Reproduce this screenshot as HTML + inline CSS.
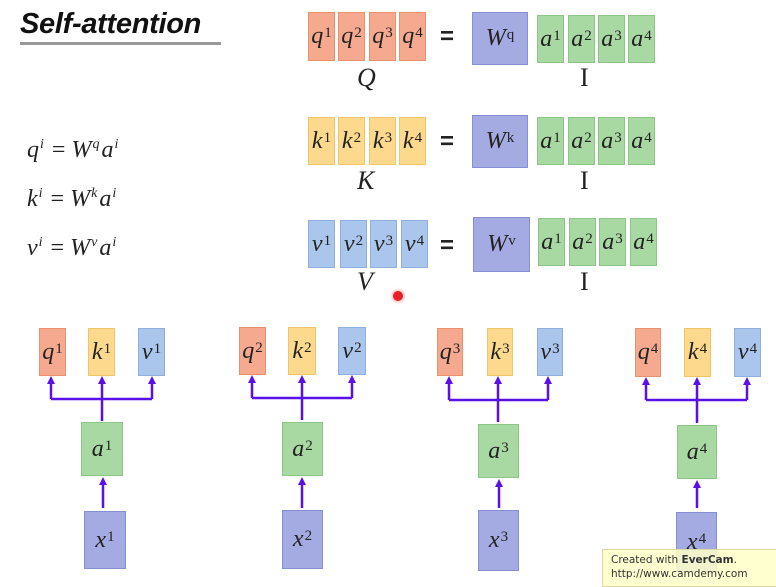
<!DOCTYPE html>
<html><head><meta charset="utf-8"><style>
body{margin:0;width:776px;height:584px;background:#fff;position:relative;overflow:hidden;font-family:"Liberation Serif",serif}
.b{position:absolute;box-sizing:border-box;display:flex;align-items:center;justify-content:center;font-style:italic;font-size:24px;color:#222}
.b sup{font-style:normal;font-size:15px;position:relative;top:-3px;margin-left:1px}
.o{background:#f5a98f;border:1px solid #e9906f}
.y{background:#fcd98c;border:1px solid #f0c56a}
.l{background:#aac6ec;border:1px solid #8fb0de}
.p{background:#a4abe3;border:1px solid #8590d4}
.g{background:#a9d9a2;border:1px solid #8cc585}
.t{position:absolute;font-size:26px;color:#222}
.eq{position:absolute;font-family:"Liberation Sans",sans-serif;font-weight:bold;font-size:24px;color:#222}
.f{position:absolute;font-size:24px;font-style:italic;color:#222;white-space:nowrap}
.f sup{font-size:14px;margin:0 2px 0 1px}
</style></head><body>
<div style="position:absolute;left:20px;top:8px;font-family:'Liberation Sans',sans-serif;font-weight:bold;font-style:italic;font-size:29px;color:#111;border-bottom:3px solid #999;padding-bottom:1px;width:201px;letter-spacing:-0.3px">Self-attention</div>

<div class="f" style="left:27px;top:137px">q<sup>i</sup> <span style="font-style:normal">=</span> W<sup>q</sup>a<sup>i</sup></div>
<div class="f" style="left:27px;top:186px">k<sup>i</sup> <span style="font-style:normal">=</span> W<sup>k</sup>a<sup>i</sup></div>
<div class="f" style="left:27px;top:235px">v<sup>i</sup> <span style="font-style:normal">=</span> W<sup>v</sup>a<sup>i</sup></div>

<!-- Q row -->
<div class="b o" style="left:308px;top:12px;width:27px;height:49px">q<sup>1</sup></div>
<div class="b o" style="left:338px;top:12px;width:27px;height:49px">q<sup>2</sup></div>
<div class="b o" style="left:369px;top:12px;width:27px;height:49px">q<sup>3</sup></div>
<div class="b o" style="left:399px;top:12px;width:27px;height:49px">q<sup>4</sup></div>
<div class="eq" style="left:440px;top:23px">=</div>
<div class="b p" style="left:472px;top:12px;width:56px;height:53px">W<sup>q</sup></div>
<div class="b g" style="left:537px;top:15px;width:27px;height:48px">a<sup>1</sup></div>
<div class="b g" style="left:568px;top:15px;width:27px;height:48px">a<sup>2</sup></div>
<div class="b g" style="left:598px;top:15px;width:27px;height:48px">a<sup>3</sup></div>
<div class="b g" style="left:628px;top:15px;width:27px;height:48px">a<sup>4</sup></div>
<div class="t" style="left:357px;top:63px;font-style:italic">Q</div>
<div class="t" style="left:580px;top:63px">I</div>

<!-- K row -->
<div class="b y" style="left:308px;top:117px;width:27px;height:48px">k<sup>1</sup></div>
<div class="b y" style="left:338px;top:117px;width:27px;height:48px">k<sup>2</sup></div>
<div class="b y" style="left:369px;top:117px;width:27px;height:48px">k<sup>3</sup></div>
<div class="b y" style="left:399px;top:117px;width:27px;height:48px">k<sup>4</sup></div>
<div class="eq" style="left:440px;top:128px">=</div>
<div class="b p" style="left:472px;top:115px;width:56px;height:53px">W<sup>k</sup></div>
<div class="b g" style="left:537px;top:117px;width:27px;height:48px">a<sup>1</sup></div>
<div class="b g" style="left:568px;top:117px;width:27px;height:48px">a<sup>2</sup></div>
<div class="b g" style="left:598px;top:117px;width:27px;height:48px">a<sup>3</sup></div>
<div class="b g" style="left:628px;top:117px;width:27px;height:48px">a<sup>4</sup></div>
<div class="t" style="left:357px;top:166px;font-style:italic">K</div>
<div class="t" style="left:580px;top:166px">I</div>

<!-- V row -->
<div class="b l" style="left:308px;top:220px;width:27px;height:48px">v<sup>1</sup></div>
<div class="b l" style="left:340px;top:220px;width:27px;height:48px">v<sup>2</sup></div>
<div class="b l" style="left:370px;top:220px;width:27px;height:48px">v<sup>3</sup></div>
<div class="b l" style="left:401px;top:220px;width:27px;height:48px">v<sup>4</sup></div>
<div class="eq" style="left:440px;top:232px">=</div>
<div class="b p" style="left:473px;top:217px;width:57px;height:55px">W<sup>v</sup></div>
<div class="b g" style="left:538px;top:218px;width:27px;height:48px">a<sup>1</sup></div>
<div class="b g" style="left:569px;top:218px;width:27px;height:48px">a<sup>2</sup></div>
<div class="b g" style="left:599px;top:218px;width:27px;height:48px">a<sup>3</sup></div>
<div class="b g" style="left:630px;top:218px;width:27px;height:48px">a<sup>4</sup></div>
<div class="t" style="left:357px;top:267px;font-style:italic">V</div>
<div class="t" style="left:580px;top:267px">I</div>
<div style="position:absolute;left:393px;top:291px;width:10px;height:10px;border-radius:50%;background:#e8202a;box-shadow:0 0 4px #f66"></div>

<svg width="776" height="584" style="position:absolute;left:0;top:0">
<g fill="none" stroke="#5a10e8" stroke-width="2.5">
<path d="M51,399 H152 M51,399 V382 M152,399 V382 M102,421 V382 M103,508 V482"/>
<path d="M252,398 H352 M252,398 V381 M352,398 V381 M302,420 V381 M302,508 V482"/>
<path d="M449,400 H548 M449,400 V382 M548,400 V382 M498,422 V382 M499,508 V484"/>
<path d="M646,400 H747 M646,400 V382 M747,400 V382 M697,423 V382 M697,508 V485"/>
</g>
<g fill="#5a10e8">
<polygon points="47,384 51,376 55,384"/><polygon points="98,384 102,376 106,384"/><polygon points="148,384 152,376 156,384"/><polygon points="99,485 103,477 107,485"/>
<polygon points="248,383 252,375 256,383"/><polygon points="298,383 302,375 306,383"/><polygon points="348,383 352,375 356,383"/><polygon points="298,485 302,477 306,485"/>
<polygon points="445,384 449,376 453,384"/><polygon points="494,384 498,376 502,384"/><polygon points="544,384 548,376 552,384"/><polygon points="495,487 499,479 503,487"/>
<polygon points="642,385 646,377 650,385"/><polygon points="693,385 697,377 701,385"/><polygon points="743,385 747,377 751,385"/><polygon points="693,488 697,480 701,488"/>
</g>
</svg>

<!-- bottom groups -->
<div class="b o" style="left:39px;top:328px;width:27px;height:48px">q<sup>1</sup></div>
<div class="b y" style="left:88px;top:328px;width:27px;height:48px">k<sup>1</sup></div>
<div class="b l" style="left:138px;top:328px;width:27px;height:48px">v<sup>1</sup></div>
<div class="b g" style="left:81px;top:422px;width:42px;height:54px">a<sup>1</sup></div>
<div class="b p" style="left:84px;top:511px;width:42px;height:58px">x<sup>1</sup></div>

<div class="b o" style="left:239px;top:327px;width:27px;height:48px">q<sup>2</sup></div>
<div class="b y" style="left:288px;top:327px;width:28px;height:48px">k<sup>2</sup></div>
<div class="b l" style="left:338px;top:327px;width:28px;height:48px">v<sup>2</sup></div>
<div class="b g" style="left:282px;top:422px;width:41px;height:54px">a<sup>2</sup></div>
<div class="b p" style="left:282px;top:510px;width:41px;height:59px">x<sup>2</sup></div>

<div class="b o" style="left:437px;top:328px;width:26px;height:48px">q<sup>3</sup></div>
<div class="b y" style="left:487px;top:328px;width:26px;height:48px">k<sup>3</sup></div>
<div class="b l" style="left:537px;top:328px;width:26px;height:48px">v<sup>3</sup></div>
<div class="b g" style="left:478px;top:424px;width:41px;height:54px">a<sup>3</sup></div>
<div class="b p" style="left:478px;top:510px;width:41px;height:61px">x<sup>3</sup></div>

<div class="b o" style="left:635px;top:328px;width:26px;height:49px">q<sup>4</sup></div>
<div class="b y" style="left:684px;top:328px;width:27px;height:49px">k<sup>4</sup></div>
<div class="b l" style="left:734px;top:328px;width:27px;height:49px">v<sup>4</sup></div>
<div class="b g" style="left:677px;top:425px;width:40px;height:54px">a<sup>4</sup></div>
<div class="b p" style="left:676px;top:512px;width:41px;height:60px">x<sup>4</sup></div>

<div style="position:absolute;left:602px;top:549px;width:176px;height:38px;background:rgba(255,255,200,0.85);border:1px solid #d8d8a0;box-sizing:border-box;font-family:'DejaVu Sans',sans-serif;font-size:10.5px;color:#333;padding:3px 0 0 8px;line-height:14px">Created with <b>EverCam</b>.<br>http://www.camdemy.com</div>
</body></html>
